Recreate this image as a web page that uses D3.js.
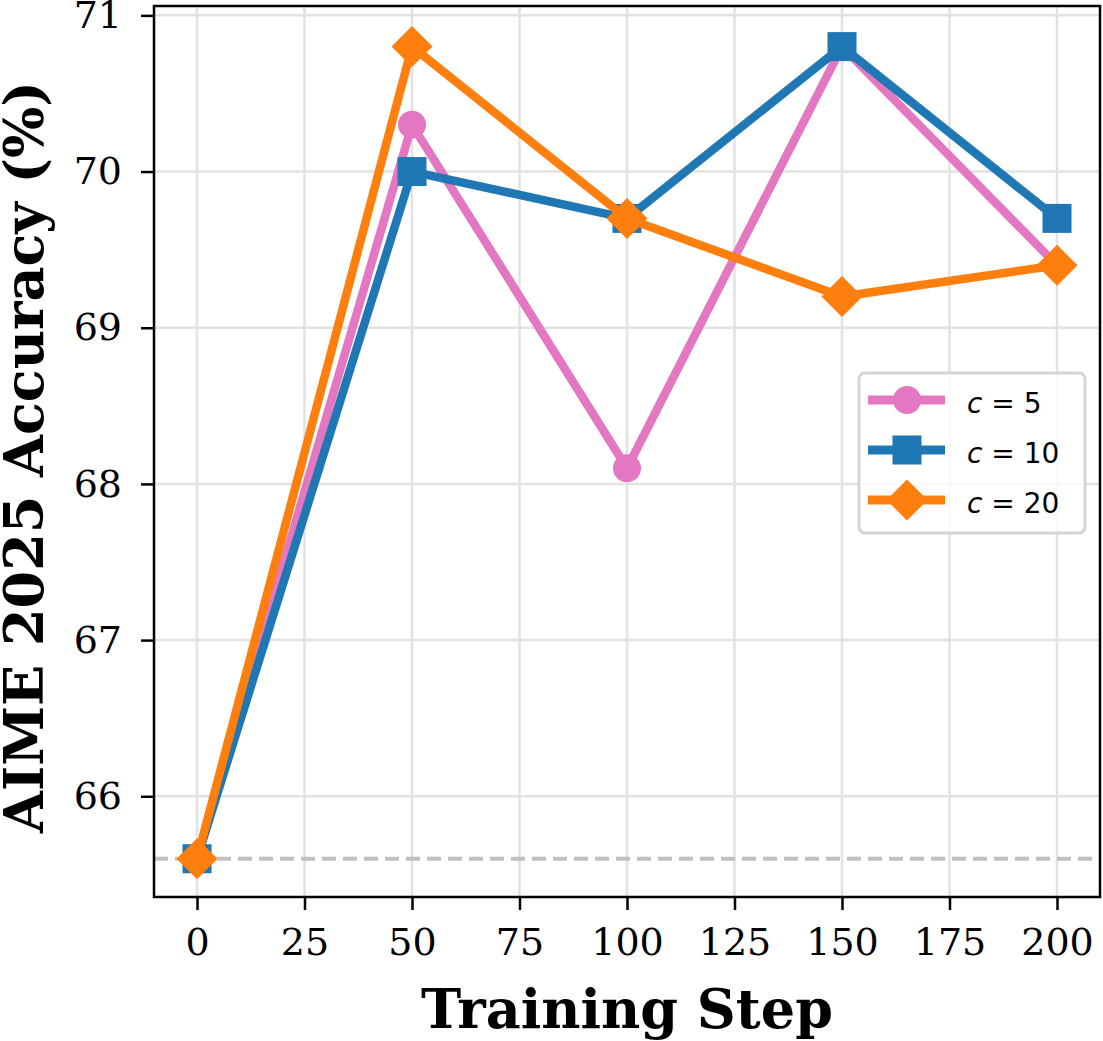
<!DOCTYPE html>
<html>
<head>
<meta charset="utf-8">
<script src="https://cdn.jsdelivr.net/npm/d3@7"></script>
<style>
body { margin: 0; background: #fff; }
text { fill: #000; }
</style>
</head>
<body>
<script>
const steps = [0, 50, 100, 150, 200];
const c5 = [65.6, 70.3, 68.1, 70.8, 69.4];
const c10 = [65.6, 70.0, 69.7, 70.8, 69.7];
const c20 = [65.6, 70.8, 69.7, 69.2, 69.4];
const baseline = 65.6;
const xTicks = [0, 25, 50, 75, 100, 125, 150, 175, 200];
const yTicks = [66, 67, 68, 69, 70, 71];

const series = [
	{ name: "5", values: c5, color: "#e377c2", shape: "circle" },
	{ name: "10", values: c10, color: "#1f77b4", shape: "square" },
	{ name: "20", values: c20, color: "#ff7f0e", shape: "diamond" }
];

let W = 1103, H = 1041;
let m = { top: 6, left: 154, right: 3, bottom: 144 },
	w = W - m.left - m.right,
	h = H - m.top - m.bottom;

let svg = d3.select("body").append("svg")
	.attr("width", W).attr("height", H);
let g = svg.append("g").attr("transform", "translate(" + m.left + "," + m.top + ")");

let x = d3.scaleLinear().domain([-10, 210]).range([0, w]);
let y = d3.scaleLinear().domain([65.355, 71.06]).range([h, 0]);

// grid
g.append("g").selectAll("line").data(xTicks).join("line")
	.attr("x1", d => x(d)).attr("x2", d => x(d))
	.attr("y1", 0).attr("y2", h)
	.attr("stroke", "#e2e2e2").attr("stroke-width", 2.5);
g.append("g").selectAll("line").data(yTicks).join("line")
	.attr("y1", d => y(d)).attr("y2", d => y(d))
	.attr("x1", 0).attr("x2", w)
	.attr("stroke", "#e2e2e2").attr("stroke-width", 2.5);

// baseline
g.append("line")
	.attr("x1", 0).attr("x2", w)
	.attr("y1", y(baseline)).attr("y2", y(baseline))
	.attr("stroke", "#c0c0c0").attr("stroke-width", 4)
	.attr("stroke-dasharray", "14,7");

let line = d3.line()
	.x((d, i) => x(steps[i]))
	.y(d => y(d));

function drawMarker(sel, shape, color, cx, cy) {
	if (shape === "circle") {
		sel.append("circle").attr("cx", cx).attr("cy", cy).attr("r", 14).attr("fill", color);
	} else if (shape === "square") {
		sel.append("rect").attr("x", cx - 14.5).attr("y", cy - 14.5)
			.attr("width", 29).attr("height", 29).attr("fill", color);
	} else {
		let r = 20.5;
		sel.append("path")
			.attr("d", `M${cx},${cy - r}L${cx + r},${cy}L${cx},${cy + r}L${cx - r},${cy}Z`)
			.attr("fill", color);
	}
}

series.forEach(s => {
	let sg = g.append("g");
	sg.append("path").datum(s.values)
		.attr("fill", "none").attr("stroke", s.color)
		.attr("stroke-width", 8.5).attr("stroke-linejoin", "round")
		.attr("d", line);
	s.values.forEach((v, i) => drawMarker(sg, s.shape, s.color, x(steps[i]), y(v)));
});

// axes
let xa = g.append("g").attr("transform", "translate(0," + h + ")")
	.call(d3.axisBottom(x).tickValues(xTicks).tickFormat(d3.format("d")).tickSize(13).tickPadding(18));
let ya = g.append("g")
	.call(d3.axisLeft(y).tickValues(yTicks).tickFormat(d3.format("d")).tickSize(13).tickPadding(19));
[xa, ya].forEach(a => {
	a.select(".domain").remove();
	a.selectAll(".tick line").attr("stroke", "#000").attr("stroke-width", 2.5);
	a.selectAll(".tick text").attr("font-family", "DejaVu Serif").attr("font-size", 38);
});

// frame
g.append("rect").attr("x", 0).attr("y", 0).attr("width", w).attr("height", h)
	.attr("fill", "none").attr("stroke", "#000").attr("stroke-width", 2.5);

// axis titles
svg.append("text")
	.attr("x", m.left + x(100)).attr("y", 1028)
	.attr("text-anchor", "middle")
	.attr("font-family", "DejaVu Serif").attr("font-weight", "bold").attr("font-size", 54)
	.text("Training Step");
svg.append("text")
	.attr("transform", "translate(43,457) rotate(-90)")
	.attr("text-anchor", "middle")
	.attr("font-family", "DejaVu Serif").attr("font-weight", "bold").attr("font-size", 54)
	.text("AIME 2025 Accuracy (%)");

// legend
let lg = svg.append("g").attr("transform", "translate(859,373)");
lg.append("rect").attr("x", 0).attr("y", 0).attr("width", 226).attr("height", 160)
	.attr("rx", 6).attr("fill", "#fff").attr("fill-opacity", 0.8)
	.attr("stroke", "#d5d5d5").attr("stroke-width", 3);
series.forEach((s, i) => {
	let cy = 27 + i * 50;
	lg.append("line").attr("x1", 9).attr("x2", 86).attr("y1", cy).attr("y2", cy)
		.attr("stroke", s.color).attr("stroke-width", 9);
	drawMarker(lg, s.shape, s.color, 48, cy);
	let t = lg.append("text").attr("x", 108).attr("y", cy + 13)
		.attr("font-family", "DejaVu Sans").attr("font-size", 28);
	t.append("tspan").attr("font-style", "italic").text("c");
	t.append("tspan").text(" = " + s.name);
});
</script>
</body>
</html>
